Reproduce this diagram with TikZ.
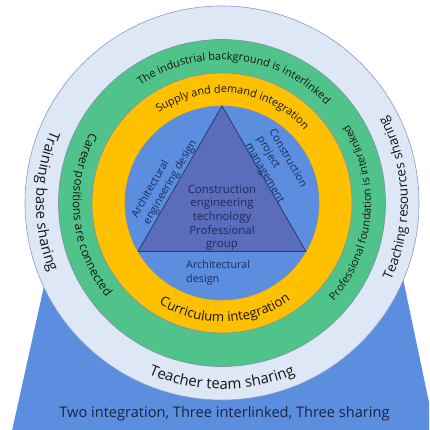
\documentclass[tikz,border=0pt]{standalone}
\usepackage{fontspec}
\setmainfont{Open Sans}
\usetikzlibrary{decorations.text}
\definecolor{bandfill}{HTML}{DDE7F6}
\definecolor{bandline}{HTML}{8A9CC4}
\definecolor{greenfill}{HTML}{50C38B}
\definecolor{yellowfill}{HTML}{FFC000}
\definecolor{discfill}{HTML}{5B8EDF}
\definecolor{trifill}{HTML}{5B6CBD}
\definecolor{triline}{HTML}{2B3A6B}
\definecolor{ringline}{HTML}{7F8FA8}
\definecolor{ringtxt}{HTML}{151515}
\definecolor{innertxt}{HTML}{1C2B5C}
\definecolor{mottotxt}{HTML}{1A2340}
\tikzset{
  ring/.style={circle, inner sep=0pt, line width=0.6pt},
  innerlabel/.style={inner sep=0pt, text=innertxt, font=\fontsize{10.8}{13.7}\selectfont},
}
\newcommand{\toptext}[4]{% center angle, radius, size, text (clockwise over top)
  \path[decorate, decoration={text along path, text align=center,
    text={|\fontsize{#3}{#3}\selectfont\color{ringtxt}|#4}}]
    (#1+89:#2pt) arc[start angle=#1+89, end angle=#1-89, radius=#2pt];}
\newcommand{\ccwtext}[4]{% center angle, radius, size, text (counter-clockwise)
  \path[decorate, decoration={text along path, text align=center,
    text={|\fontsize{#3}{#3}\selectfont\color{ringtxt}|#4}}]
    (#1-89:#2pt) arc[start angle=#1-89, end angle=#1+89, radius=#2pt];}
\begin{document}
\begin{tikzpicture}[x=1pt,y=1pt]
\useasboundingbox (-222,-227) rectangle (207,203);
\clip (-222,-227) rectangle (207,203);
\fill[white] (-222,-227) rectangle (207,203);
% base trapezoid
\fill[discfill] (-210,-228) -- (-170,-47) -- (175,-47) -- (213,-228) -- cycle;
% rings
\node[ring, draw=bandline, fill=bandfill, minimum size=394pt] (outer) at (0,0) {};
\node[ring, draw=ringline, fill=greenfill, minimum size=327pt] (green) at (0,0) {};
\node[ring, draw=ringline, fill=yellowfill, minimum size=260pt] (yellow) at (0,0) {};
\node[ring, draw=ringline, fill=discfill, minimum size=194pt] (disc) at (0,0) {};
% triangle
\coordinate (ta) at (90:97pt);
\coordinate (tl) at (210:97pt);
\coordinate (tr) at (330:97pt);
\draw[fill=trifill, draw=triline, line width=0.8pt, line join=round] (ta) -- (tl) -- (tr) -- cycle;
% inner labels
\node[innerlabel, align=center, font=\fontsize{11.4}{13.7}\selectfont] (group) at (0,-14.6)
  {Construction\\engineering\\technology\\Professional\\group};
\node[innerlabel, align=left, anchor=west] (archdes) at (-36,-70) {Architectural\\design};
\node[innerlabel, align=left, rotate=60] (archeng) at (-57.5,24.1) {Architectural\\engineering design};
\node[innerlabel, align=left, rotate=-60] (cpm) at (54.3,36.6) {Construction\\project\\management};
% ring texts
\toptext{84}{143}{11}{The industrial background is interlinked}
\toptext{83.3}{110}{10.9}{Supply and demand integration}
\ccwtext{-88.4}{119}{13.2}{Curriculum integration}
\ccwtext{185.5}{149}{12}{Career positions are connected}
\ccwtext{-4.7}{149}{10.9}{Professional foundation is interlinked}
\ccwtext{179.4}{186}{14.6}{Training base sharing}
\ccwtext{1.7}{186}{13.4}{Teaching resources sharing}
\ccwtext{-90}{186}{14.9}{Teacher team sharing}
% bottom motto
\node[anchor=base, inner sep=0pt, text=mottotxt, font=\fontsize{14.6}{17}\selectfont] (motto) at (2.5,-214.3)
  {Two integration, Three interlinked, Three sharing};
\end{tikzpicture}
\end{document}
